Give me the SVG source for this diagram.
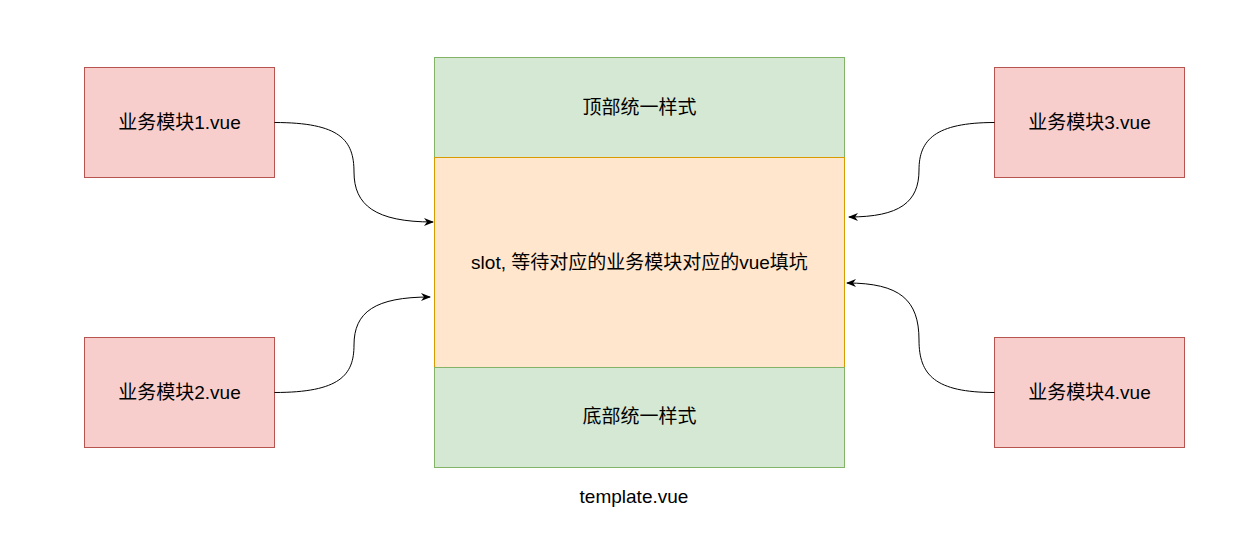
<svg xmlns="http://www.w3.org/2000/svg" width="1237" height="536" viewBox="0 0 1237 536">
<defs>
<style>
.mod{fill:#f8cecc;stroke:#b85450;stroke-width:1}
.grn{fill:#d5e8d4;stroke:#82b366;stroke-width:1}
.org{fill:#ffe6cc;stroke:#d79b00;stroke-width:1}
text{font-family:"Liberation Sans","Noto Sans CJK SC",sans-serif;font-size:19px;fill:#000;text-anchor:middle;dominant-baseline:central}
.edge{fill:none;stroke:#000;stroke-width:1;marker-end:url(#arr)}
</style>
<marker id="arr" viewBox="0 0 10 10" refX="9" refY="5" markerWidth="10" markerHeight="10" markerUnits="userSpaceOnUse" orient="auto">
<path d="M0,1 L10,5 L0,9 L3,5 Z" fill="#000"/>
</marker>
</defs>
<rect width="1237" height="536" fill="#fff"/>
<g id="top"><rect class="grn" x="434.5" y="57.5" width="410" height="100"/><text x="639.5" y="107">顶部统一样式</text></g>
<g id="slot"><rect class="org" x="434.5" y="157.5" width="410" height="210"/><text x="639.5" y="262">slot, 等待对应的业务模块对应的vue填坑</text></g>
<g id="bottom"><rect class="grn" x="434.5" y="367.5" width="410" height="100"/><text x="639.5" y="416">底部统一样式</text></g>
<g id="template-label"><text x="634" y="496">template.vue</text></g>
<g id="mod1"><rect class="mod" x="84.5" y="67.5" width="190" height="110"/><text x="179.5" y="122">业务模块1.vue</text></g>
<g id="mod2"><rect class="mod" x="84.5" y="337.5" width="190" height="110"/><text x="179.5" y="392">业务模块2.vue</text></g>
<g id="mod3"><rect class="mod" x="994.5" y="67.5" width="190" height="110"/><text x="1089.5" y="122">业务模块3.vue</text></g>
<g id="mod4"><rect class="mod" x="994.5" y="337.5" width="190" height="110"/><text x="1089.5" y="392">业务模块4.vue</text></g>
<g id="connectors">
<path class="edge" d="M274.5,122.5 C340,122.5 354,140 354,172 C354,205 375,222 433,222"/>
<path class="edge" d="M274.5,392.5 C340,392.5 354,375 354,345 C354,312 375,297 430,297"/>
<path class="edge" d="M994.5,122.5 C935,122.5 919,140 919,170 C919,202 900,217 849,217"/>
<path class="edge" d="M994.5,392.5 C935,392.5 919,375 919,340 C919,300 900,283 847,283"/>
</g>
</svg>
